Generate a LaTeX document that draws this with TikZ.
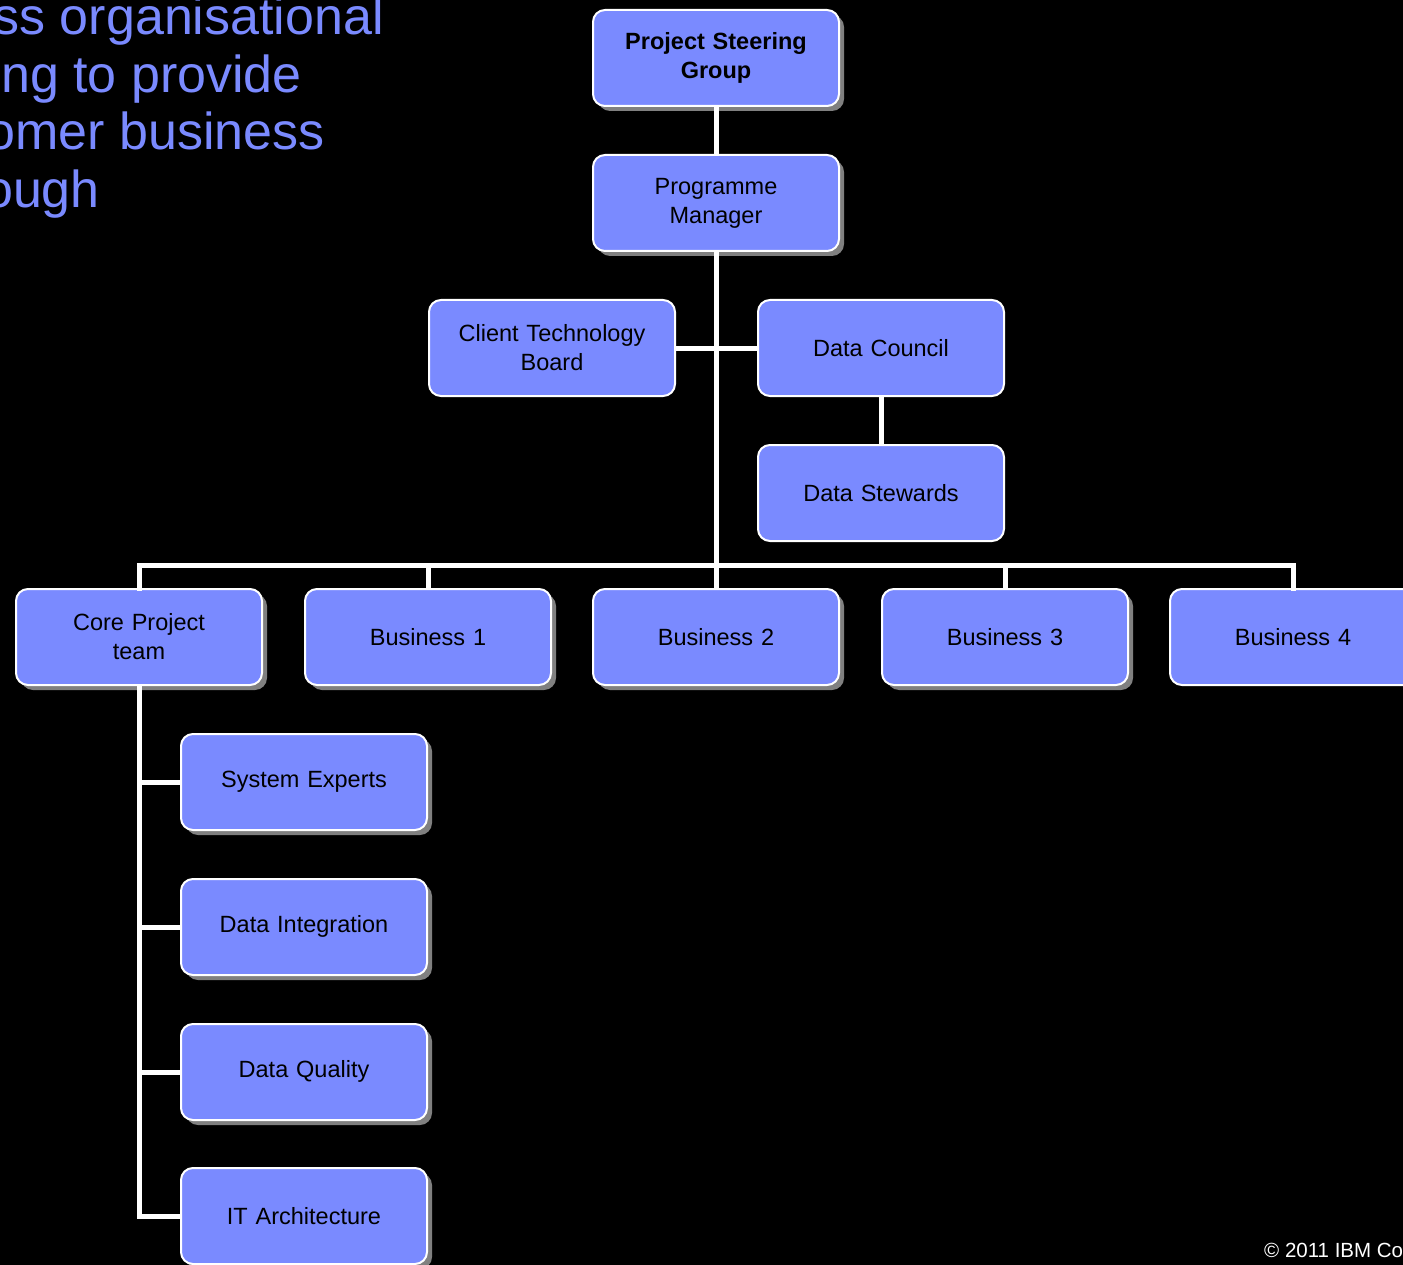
\documentclass[tikz,border=0pt]{standalone}
\usepackage{fontspec}
\setmainfont{Liberation Sans}
\usetikzlibrary{shadows}
\definecolor{boxblue}{RGB}{122,138,255}
\definecolor{headblue}{RGB}{122,138,255}
\definecolor{shadowgray}{RGB}{128,128,128}
\tikzset{
  orgbox/.style={draw=white, line width=2pt, fill=boxblue, rounded corners=12pt,
    minimum width=246pt, minimum height=96pt, inner sep=0pt, text width=236pt,
    align=center, font=\fontsize{23.5}{29}\selectfont, text=black},
  withshadow/.style={drop shadow={shadow xshift=5pt, shadow yshift=-5pt, fill=shadowgray, opacity=1}},
  link/.style={draw=white, line width=5pt},
  heading/.style={anchor=base east, inner sep=0pt, text=headblue, font=\fontsize{52}{58}\selectfont}
}
\newcommand{\lowr}[1]{\raisebox{-2pt}{\begin{tabular}{@{}c@{}}#1\end{tabular}}}
\begin{document}
\begin{tikzpicture}[x=1pt, y=-1pt]
\useasboundingbox (0,0) rectangle (1403,1265);
\fill[black] (0,0) rectangle (1403,1265);
\clip (0,0) rectangle (1403,1265);
% heading fragments
\node[heading] (h1) at (384,35) {ss organisational};
\node[heading] (h2) at (302,93) {ng to provide};
\node[heading] (h3) at (325,150) {omer business};
\node[heading] (h4) at (100,208) {ough};
% copyright
\node[anchor=base west, inner sep=0pt, text=white, font=\fontsize{20.5}{24}\selectfont] (copy) at (1264,1257) {\textcopyright{} 2011 IBM Corporation};
\coordinate (bus) at (716,565);
% boxes
\node[orgbox, withshadow, font=\bfseries\fontsize{23.5}{29}\selectfont] (psg) at (716,58) {\lowr{Project Steering\\Group}};
\node[orgbox, withshadow] (pm) at (716,203) {\lowr{Programme\\Manager}};
\node[orgbox] (ctb) at (552,348) {Client Technology\\Board};
\node[orgbox] (dc) at (881,348) {Data Council};
\node[orgbox] (ds) at (881,493) {Data Stewards};
\node[orgbox, withshadow] (core) at (139,637) {Core Project\\team};
\node[orgbox, withshadow] (b1) at (428,637) {Business 1};
\node[orgbox, withshadow] (b2) at (716,637) {Business 2};
\node[orgbox, withshadow] (b3) at (1005,637) {Business 3};
\node[orgbox] (b4) at (1293,637) {Business 4};
\node[orgbox, withshadow] (se) at (304,782) {\lowr{System Experts}};
\node[orgbox, withshadow] (di) at (304,927) {\lowr{Data Integration}};
\node[orgbox, withshadow] (dq) at (304,1072) {\lowr{Data Quality}};
\node[orgbox, withshadow] (ita) at (304,1216) {IT Architecture};
% links
\draw[link] (psg.south) -- (pm.north);
\draw[link] (pm.south) -- (bus);
\draw[link] (ctb.east) -- (dc.west);
\draw[link] (dc.south) -- (ds.north);
\draw[link, line cap=rect] (core.north) -- (core.north |- bus) -- (b4.north |- bus) -- (b4.north);
\draw[link] (b1.north |- bus) -- (b1.north);
\draw[link] (b2.north |- bus) -- (b2.north);
\draw[link] (b3.north |- bus) -- (b3.north);
\draw[link] (core.south) |- (ita.west);
\draw[link] (core.south |- se.west) -- (se.west);
\draw[link] (core.south |- di.west) -- (di.west);
\draw[link] (core.south |- dq.west) -- (dq.west);
\end{tikzpicture}
\end{document}
